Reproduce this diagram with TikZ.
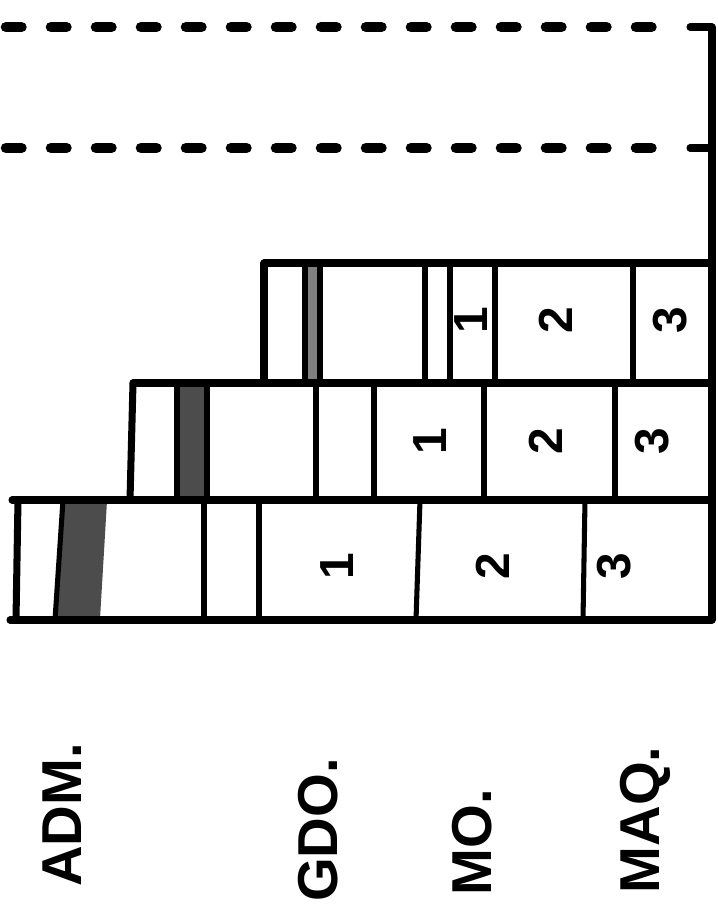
\documentclass[tikz,border=0pt]{standalone}
\usepackage{fontspec}
\setmainfont{Liberation Sans}
\usepackage{tikz}
\usetikzlibrary{calc, positioning}

\begin{document}
\begin{tikzpicture}[x=0.025cm, y=-0.025cm, line cap=round, line join=round,
    bord/.style={line width=5pt},
    sep/.style={line width=3.6pt},
    guide/.style={line width=7.5pt, dash pattern=on 11pt off 21pt},
    num/.style={font=\fontsize{34}{34}\selectfont\bfseries, rotate=90},
    lab/.style={font=\fontsize{40}{40}\selectfont\bfseries, rotate=90}]
    % --- khung ngoai: kich thuoc theo pixel ---
    \useasboundingbox (0,0) rectangle (718,904);
    \def\R{712}

    % Hai duong net dut phia tren
    \draw[guide] (6,27) -- (660,27);
    \draw[guide] (6,148) -- (660,148);
    \draw[bord] (690,27) -- (\R,27);
    \draw[bord] (690,148) -- (\R,148);
    \draw[bord] (\R,27) -- (\R,620);

    % To mau xam cho cac cot gach
    \fill[black!50] (305,264) rectangle (320,381);
    \fill[black!70] (177,384) rectangle (207,499);
    \fill[black!70] (63,501) -- (107,501) -- (100,619) -- (55,619) -- cycle;

    % Hang 1 (tren cung)
    \draw[bord] (264,263) -- (\R,263);
    \draw[bord] (264,263) -- (264,382);
    \draw[sep] (305,263) -- (305,382);
    \draw[sep] (320,263) -- (320,382);
    \draw[sep] (425,263) -- (425,382);
    \draw[sep] (450,263) -- (450,382);
    \draw[sep] (495,263) -- (495,382);
    \draw[sep] (633,263) -- (633,382);

    % Hang 2
    \draw[bord] (133,383) -- (\R,383);
    \draw[bord] (133,383) -- (130,500);
    \draw[sep] (177,383) -- (177,500);
    \draw[sep] (207,383) -- (207,500);
    \draw[sep] (316,383) -- (316,500);
    \draw[sep] (374,383) -- (374,500);
    \draw[sep] (484,383) -- (484,500);
    \draw[sep] (615,383) -- (615,500);

    % Hang 3 (duoi cung)
    \draw[bord] (12,500) -- (\R,500);
    \draw[bord] (18,500) -- (16,620);
    \draw[sep] (63,500) -- (55,620);
    \draw[sep] (204,500) -- (204,620);
    \draw[sep] (259,500) -- (259,620);
    \draw[sep] (420,500) -- (416,620);
    \draw[sep] (585,500) -- (583,620);
    \draw[bord] (10,620) -- (\R,620);

    % Cac so thu tu trong o
    \node[num] (h1a) at (471,320) {1};
    \node[num] (h1b) at (556,320) {2};
    \node[num] (h1c) at (670,320) {3};
    \node[num] (h2a) at (430,441) {1};
    \node[num] (h2b) at (546,441) {2};
    \node[num] (h2c) at (652,441) {3};
    \node[num] (h3a) at (337,566) {1};
    \node[num] (h3b) at (493,566) {2};
    \node[num] (h3c) at (614,566) {3};

    % Nhan phia duoi
    \node[lab] (adm) at (62,815) {ADM.};
    \node[lab] (gdo) at (318,830) {GDO.};
    \node[lab] (mo)  at (472,842) {MO.};
    \node[lab] (maq) at (645,820) {MAQ.};
\end{tikzpicture}
\end{document}
